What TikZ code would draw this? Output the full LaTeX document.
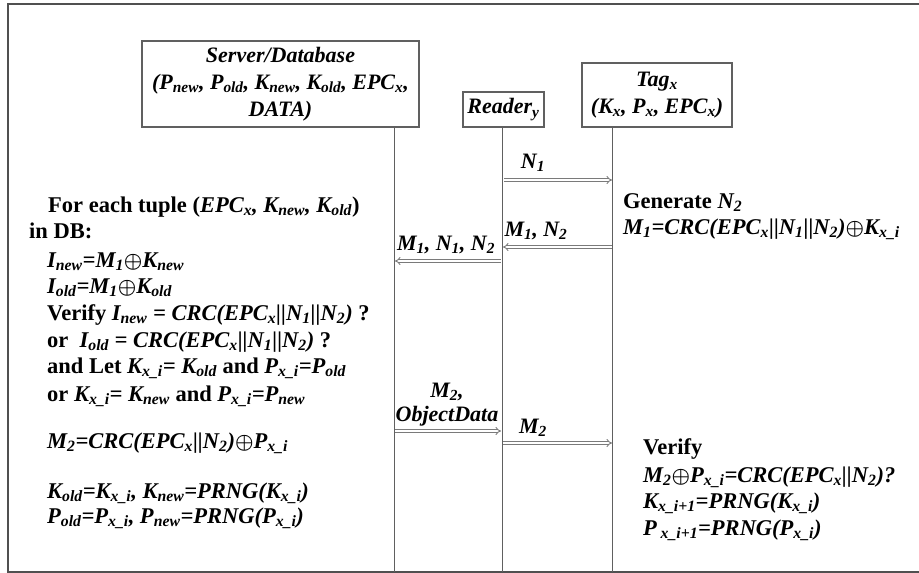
\documentclass[tikz,border=0pt]{standalone}
\usepackage{fontspec}
\setmainfont{Liberation Serif}
\usetikzlibrary{arrows.meta}
\newcommand\sbs[1]{\textsubscript{#1}}
\newcommand\xo{\mbox{\boldmath$\oplus$}}
\definecolor{frm}{HTML}{505050}
\definecolor{lin}{HTML}{606060}
\definecolor{arr}{HTML}{7A7A7A}
\tikzset{
  txt/.style={anchor=base west, inner sep=0pt, font=\fontsize{22.5}{25}\selectfont\bfseries},
  actor/.style={draw=lin, line width=1.1pt, inner sep=0pt, align=center,
     font=\fontsize{22}{27}\selectfont\bfseries\itshape},
  life/.style={draw=lin, line width=1pt},
  msg/.style={draw=arr, double=white, double distance=1.8pt, line width=0.9pt, -{Implies}},
  lbl/.style={anchor=base, inner sep=0pt, font=\fontsize{22}{24}\selectfont\bfseries\itshape},
}
\begin{document}
\begin{tikzpicture}[x=1pt,y=-1pt]
\useasboundingbox (0,0) rectangle (919,573);
% frame
\draw[frm, line width=1.5pt] (919,4) -- (8,4) -- (8,572) -- (919,572);
% actors
\node[actor, minimum width=277pt, minimum height=86pt] (srv) at (280.5,84)
  {Server/Database\\(P\sbs{new}, P\sbs{old}, K\sbs{new}, K\sbs{old}, EPC\sbs{x},\\DATA)};
\node[actor, minimum width=81pt, minimum height=35pt] (rdr) at (503.5,109.5) {Reader\sbs{y}};
\node[actor, minimum width=150pt, minimum height=64pt] (tag) at (657,95)
  {Tag\sbs{x}\\(K\sbs{x}, P\sbs{x}, EPC\sbs{x})};
% lifelines
\coordinate (sT) at (394,127); \coordinate (sB) at (394,572);
\coordinate (rT) at (502,127); \coordinate (rB) at (502,572);
\coordinate (tT) at (612,127); \coordinate (tB) at (612,572);
\draw[life] (sT) -- (sB);
\draw[life] (rT) -- (rB);
\draw[life] (tT) -- (tB);
% messages
\coordinate (a1s) at (504,180); \coordinate (a1e) at (612,180);
\coordinate (a2s) at (612,247); \coordinate (a2e) at (503,247);
\coordinate (a3s) at (501,261); \coordinate (a3e) at (395,261);
\coordinate (a4s) at (395,431); \coordinate (a4e) at (501,431);
\coordinate (a5s) at (503,443); \coordinate (a5e) at (612,443);
\draw[msg] (a1s) -- (a1e);
\draw[msg] (a2s) -- (a2e);
\draw[msg] (a3s) -- (a3e);
\draw[msg] (a4s) -- (a4e);
\draw[msg] (a5s) -- (a5e);
\node[lbl] (l1) at (533,168) {N\sbs{1}};
\node[lbl] (l2) at (536,236) {M\sbs{1}, N\sbs{2}};
\node[lbl] (l3) at (446,250) {M\sbs{1}, N\sbs{1}, N\sbs{2}};
\node[lbl] (l4) at (447,397) {M\sbs{2},};
\node[lbl] (l5) at (447,421) {ObjectData};
\node[lbl] (l6) at (533,433) {M\sbs{2}};
% server side text
\node[txt] (t1) at (48,212) {For each tuple (\textit{EPC\sbs{x}, K\sbs{new}, K\sbs{old}})};
\node[txt] (t2) at (29,238) {in DB:};
\node[txt] (t3) at (47,267) {\textit{I\sbs{new}=M\sbs{1}\xo K\sbs{new}}};
\node[txt] (t4) at (47,293) {\textit{I\sbs{old}=M\sbs{1}\xo K\sbs{old}}};
\node[txt] (t5) at (47,320) {Verify \textit{I\sbs{new} = CRC(EPC\sbs{x}||N\sbs{1}||N\sbs{2})} ?};
\node[txt] (t6) at (47,347) {or~ \textit{I\sbs{old} = CRC(EPC\sbs{x}||N\sbs{1}||N\sbs{2})} ?};
\node[txt] (t7) at (47,373) {and Let \textit{K\sbs{x\_i}= K\sbs{old}} and \textit{P\sbs{x\_i}=P\sbs{old}}};
\node[txt] (t8) at (47,401) {or \textit{K\sbs{x\_i}= K\sbs{new}} and \textit{P\sbs{x\_i}=P\sbs{new}}};
\node[txt] (t9) at (47,448) {\textit{M\sbs{2}=CRC(EPC\sbs{x}||N\sbs{2})\xo P\sbs{x\_i}}};
\node[txt] (t10) at (47,498) {\textit{K\sbs{old}=K\sbs{x\_i}, K\sbs{new}=PRNG(K\sbs{x\_i})}};
\node[txt] (t11) at (47,523) {\textit{P\sbs{old}=P\sbs{x\_i}, P\sbs{new}=PRNG(P\sbs{x\_i})}};
% tag side text
\node[txt] (g1) at (623,208) {Generate \textit{N\sbs{2}}};
\node[txt] (g2) at (623,234) {\textit{M\sbs{1}=CRC(EPC\sbs{x}||N\sbs{1}||N\sbs{2})\xo K\sbs{x\_i}}};
\node[txt] (v1) at (643,454) {Verify};
\node[txt] (v2) at (643,482) {\textit{M\sbs{2}\xo P\sbs{x\_i}=CRC(EPC\sbs{x}||N\sbs{2})?}};
\node[txt] (v3) at (643,508) {\textit{K\sbs{x\_i+1}=PRNG(K\sbs{x\_i})}};
\node[txt] (v4) at (643,535) {\textit{P\,\sbs{x\_i+1}=PRNG(P\sbs{x\_i})}};
\end{tikzpicture}
\end{document}
